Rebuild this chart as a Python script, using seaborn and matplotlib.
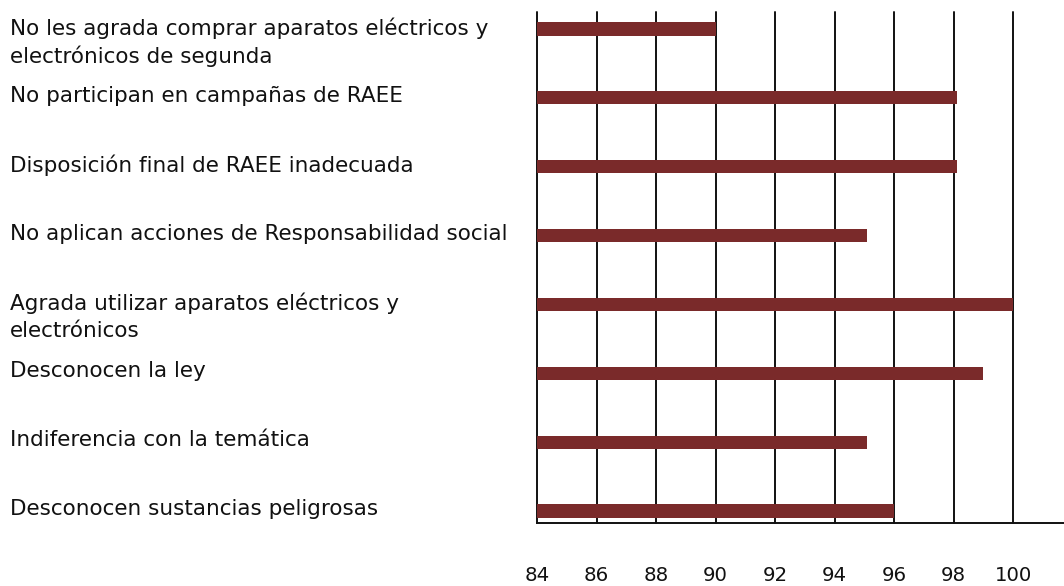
import pandas as pd
import seaborn as sns
import matplotlib.pyplot as plt

# data
categories = [
    "No les agrada comprar aparatos eléctricos y\nelectrónicos de segunda",
    "No participan en campañas de RAEE",
    "Disposición final de RAEE inadecuada",
    "No aplican acciones de Responsabilidad social",
    "Agrada utilizar aparatos eléctricos y\nelectrónicos",
    "Desconocen la ley",
    "Indiferencia con la temática",
    "Desconocen sustancias peligrosas",
]
values = [90, 98.1, 98.1, 95.1, 100, 99, 95.1, 96]
x_ticks = [84, 86, 88, 90, 92, 94, 96, 98, 100]

df = pd.DataFrame({"cat": categories, "val": values})

sns.set_style("white")
plt.rcParams["font.family"] = ["DejaVu Sans"]

fig = plt.figure(figsize=(10.64, 5.86), dpi=100)
ax = fig.add_axes([537 / 1064, 63 / 586, 1 - 537 / 1064, 511 / 586])

sns.barplot(data=df, x="val", y="cat", orient="h", color="#7a2a2a",
            saturation=1, width=0.19, linewidth=0, ax=ax, zorder=3)

ax.set_xlim(84, 101.71)
ax.set_ylim(7.174, -0.247)
ax.set_xticks(x_ticks)
ax.set_xticklabels([str(t) for t in x_ticks], fontsize=14.2, color="#111111")
ax.tick_params(axis="x", length=0, pad=31)
for t in x_ticks:
    ax.axvline(t, color="#111111", lw=1.4, zorder=1, clip_on=False)

for s in ["top", "right", "left"]:
    ax.spines[s].set_visible(False)
ax.spines["bottom"].set_color("#111111")
ax.spines["bottom"].set_linewidth(1.4)

ax.set_yticks([])
ax.set_xlabel("")
ax.set_ylabel("")

# left-aligned category labels, first line level with the bar
for i, lab in enumerate(categories):
    ax.annotate(lab, xy=(10 / 1064, i), xycoords=("figure fraction", "data"),
                xytext=(0, 8.5), textcoords="offset points",
                ha="left", va="top", fontsize=15.5, linespacing=1.4,
                color="#111111", annotation_clip=False)

fig.savefig("out.png", dpi=100)
